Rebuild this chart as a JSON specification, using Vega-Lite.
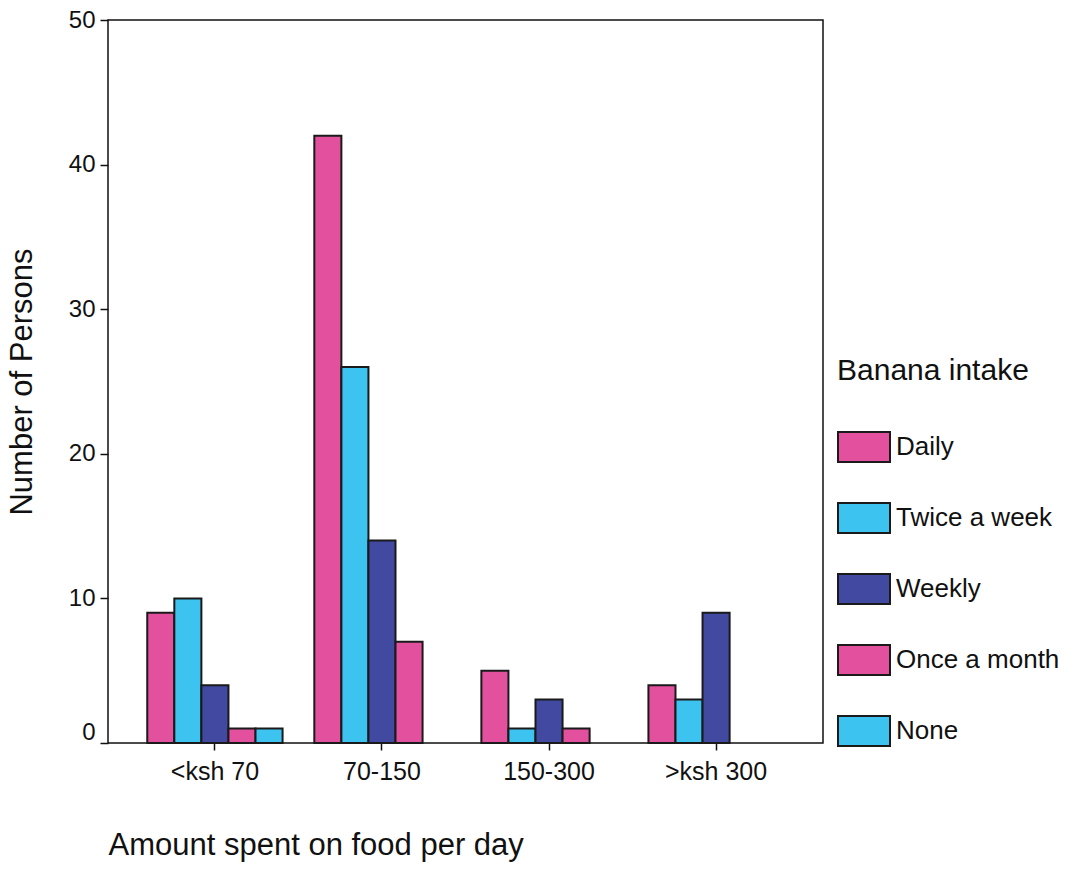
{
  "$schema": "https://vega.github.io/schema/vega-lite/v6.json",
  "autosize": {"type": "none"},
  "padding": {"left": 108, "top": 20, "right": 250, "bottom": 126},
  "width": 715,
  "height": 723,
  "background": "white",
  "config": {
    "font": "Liberation Sans",
    "view": {"stroke": "#111", "strokeWidth": 1.5},
    "axis": {"grid": false, "domain": false, "tickColor": "#111", "tickWidth": 1.5, "labelColor": "#111", "titleColor": "#111", "labelFont": "Liberation Sans", "titleFont": "Liberation Sans", "titleFontWeight": "normal"}
  },
  "data": {
    "values": [
      {"amount": "<ksh 70", "intake": "Daily", "count": 9},
      {"amount": "<ksh 70", "intake": "Twice a week", "count": 10},
      {"amount": "<ksh 70", "intake": "Weekly", "count": 4},
      {"amount": "<ksh 70", "intake": "Once a month", "count": 1},
      {"amount": "<ksh 70", "intake": "None", "count": 1},
      {"amount": "70-150", "intake": "Daily", "count": 42},
      {"amount": "70-150", "intake": "Twice a week", "count": 26},
      {"amount": "70-150", "intake": "Weekly", "count": 14},
      {"amount": "70-150", "intake": "Once a month", "count": 7},
      {"amount": "150-300", "intake": "Daily", "count": 5},
      {"amount": "150-300", "intake": "Twice a week", "count": 1},
      {"amount": "150-300", "intake": "Weekly", "count": 3},
      {"amount": "150-300", "intake": "Once a month", "count": 1},
      {"amount": ">ksh 300", "intake": "Daily", "count": 4},
      {"amount": ">ksh 300", "intake": "Twice a week", "count": 3},
      {"amount": ">ksh 300", "intake": "Weekly", "count": 9}
    ]
  },
  "mark": {"type": "bar", "stroke": "#1a1a1a", "strokeWidth": 2},
  "encoding": {
    "x": {
      "field": "amount", "type": "nominal",
      "sort": ["<ksh 70", "70-150", "150-300", ">ksh 300"],
      "scale": {"paddingInner": 0.19, "paddingOuter": 0.235},
      "axis": {"title": "Amount spent on food per day", "labelAngle": 0, "labelFontSize": 25, "titleFontSize": 31, "tickSize": 7, "labelPadding": 9, "titlePadding": 46, "titleAnchor": "start", "titleAlign": "left"}
    },
    "xOffset": {
      "field": "intake", "type": "nominal",
      "scale": {"domain": ["Daily", "Twice a week", "Weekly", "Once a month", "None"], "paddingInner": 0, "paddingOuter": 0}
    },
    "y": {
      "field": "count", "type": "quantitative",
      "scale": {"domain": [0, 50], "nice": false},
      "axis": {"title": "Number of Persons", "values": [0, 10, 20, 30, 40, 50], "labelFontSize": 24, "titleFontSize": 31, "tickSize": 8, "labelPadding": 5, "titlePadding": 30,
        "labelOffset": {"condition": {"test": "datum.value == 0", "value": -11}, "value": 0}}
    },
    "color": {
      "field": "intake", "type": "nominal",
      "scale": {"domain": ["Daily", "Twice a week", "Weekly", "Once a month", "None"], "range": ["#e2509e", "#3cc3ef", "#4149a0", "#e2509e", "#3cc3ef"]},
      "legend": {
        "title": "Banana intake",
        "orient": "none", "legendX": 729, "legendY": 336,
        "titleFontSize": 30, "titleFontWeight": "normal", "titleColor": "#111", "titlePadding": 34, "titleLimit": 400,
        "labelFontSize": 26, "labelColor": "#111", "labelOffset": 5, "labelLimit": 400,
        "symbolType": "M-1,-0.58H1V0.58H-1Z", "symbolSize": 2704, "symbolStrokeColor": "#1a1a1a", "symbolStrokeWidth": 2, "symbolOpacity": 1,
        "rowPadding": 24
      }
    }
  }
}
